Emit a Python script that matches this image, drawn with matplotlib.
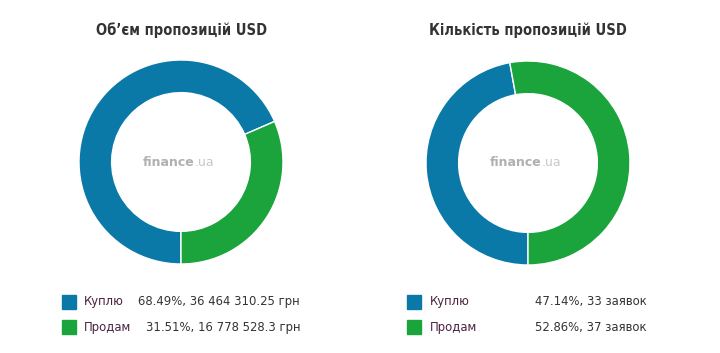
import matplotlib
matplotlib.use("Agg")
import matplotlib.pyplot as plt

W, H = 720, 353

titles = ["Об’єм пропозицій USD", "Кількість пропозицій USD"]
labels = ["Куплю", "Продам"]
volume_pct = [68.49, 31.51]
volume_uah = ["36 464 310.25", "16 778 528.3"]
count_pct = [47.14, 52.86]
count_n = [33, 37]

colors = ["#0b79a8", "#1ba43b"]
text_color = "#333333"

fig = plt.figure(figsize=(W / 100, H / 100), dpi=100)
fig.patch.set_facecolor("white")


def px_axes(cx, cy, r):
    return fig.add_axes([(cx - r) / W, (H - cy - r) / H, 2 * r / W, 2 * r / H])


def ftxt(x, y, s, **kw):
    fig.text(x / W, 1 - y / H, s, **kw)


def donut(cx, cy, values, title):
    ax = px_axes(cx, cy, 102)
    ax.pie(values, colors=colors, startangle=-90, counterclock=False, radius=1.0,
           wedgeprops=dict(width=0.32, edgecolor="white", linewidth=1.0))
    ax.set_xlim(-1, 1)
    ax.set_ylim(-1, 1)
    ax.set_aspect("equal")
    ax.axis("off")
    ax.text(0.13, 0.0, "finance", ha="right", va="center", fontsize=9,
            fontweight="bold", color="#b0b0b0", transform=ax.transData)
    ax.text(0.13, 0.0, ".ua", ha="left", va="center", fontsize=9,
            color="#c8c8c8", transform=ax.transData)
    ftxt(cx, 30, title, ha="center", va="center", fontsize=10.5, fontweight="bold",
         family="DejaVu Sans", fontstretch="condensed", color=text_color)


donut(181, 162, volume_pct, titles[0])
donut(528, 163, count_pct, titles[1])

rows_y = [302, 327]
sq = 14


def legend(x_sq, x_lab, x_val, texts, ha):
    for i, (lab, t) in enumerate(zip(labels, texts)):
        y = rows_y[i]
        fig.patches.append(plt.Rectangle(((x_sq) / W, (H - y - sq / 2) / H), sq / W, sq / H,
                                         transform=fig.transFigure, color=colors[i]))
        ftxt(x_lab, y, lab, ha="left", va="center", fontsize=8.4, color="#4a2240")
        ftxt(x_val, y, t, ha=ha, va="center", fontsize=8.4, color=text_color)


legend(62, 84, 300, [f"{volume_pct[0]:.2f}%, {volume_uah[0]} грн",
                     f"{volume_pct[1]:.2f}%, {volume_uah[1]} грн"], "right")
legend(407, 430, 535, [f"{count_pct[i]:.2f}%, {count_n[i]} заявок" for i in range(2)], "left")

fig.savefig("out.png", dpi=100, facecolor="white")
